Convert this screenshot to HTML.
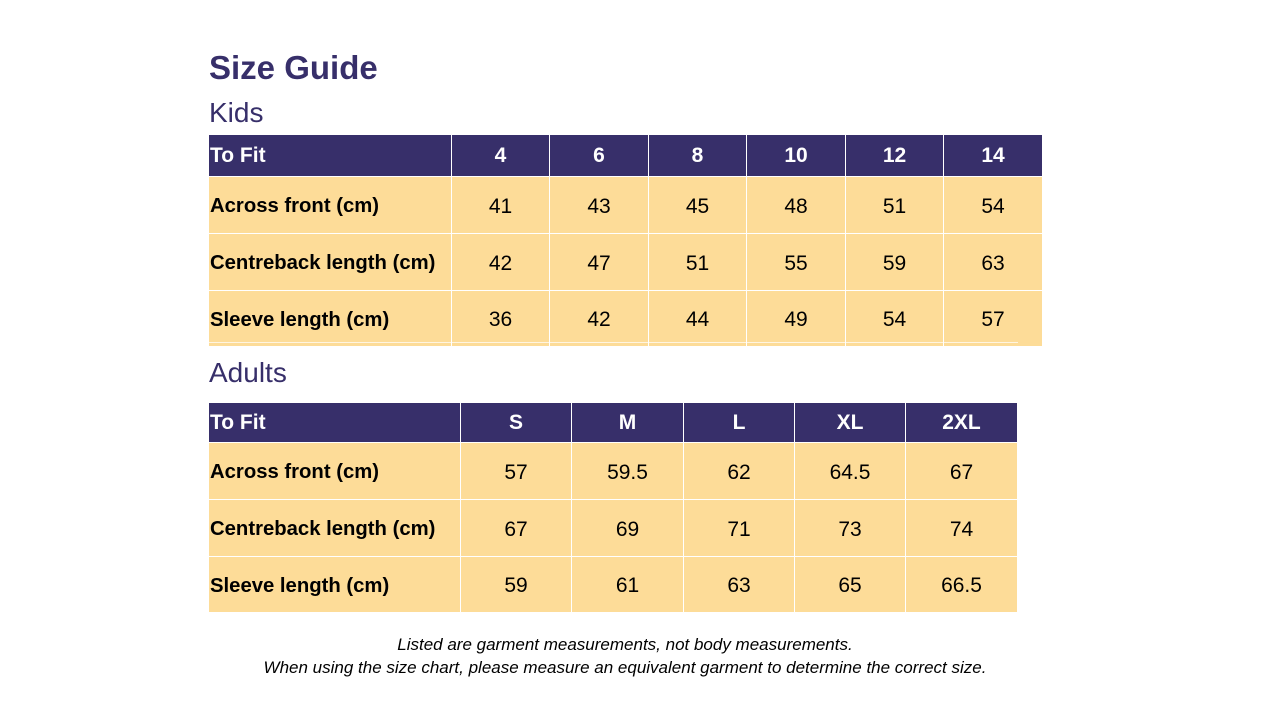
<!DOCTYPE html>
<html><head><meta charset="utf-8"><style>
body{margin:0;width:1280px;height:720px;background:#fff;position:relative;overflow:hidden;font-family:"Liberation Sans",sans-serif;}
.t{position:absolute;color:#372f6a;}
table{position:absolute;border-collapse:collapse;table-layout:fixed;}
td{padding:3px 0 0 0;border:1px solid #fff;text-align:center;font-size:21px;color:#000;background:#fddc98;}
td.l{text-align:left;font-weight:bold;font-size:20.3px;padding-left:1px;white-space:nowrap;}
tr.h td{background:#372f6a;color:#fff;font-weight:bold;font-size:21px;padding-top:1px;}
tr.h td.l{font-size:21px;}
.f{position:absolute;left:0;width:1250px;text-align:center;font-style:italic;font-size:17px;color:#000;}
</style></head><body>
<div class="t" style="left:209px;top:49px;font-size:33px;font-weight:bold;">Size Guide</div>
<div class="t" style="left:209px;top:97px;font-size:28px;">Kids</div>
<table style="left:208px;top:134px;width:834px;">
<colgroup><col style="width:243px"><col style="width:98px"><col style="width:99px"><col style="width:98px"><col style="width:99px"><col style="width:98px"><col style="width:99px"></colgroup>
<tr class="h" style="height:42px"><td class="l">To Fit</td><td>4</td><td>6</td><td>8</td><td>10</td><td>12</td><td>14</td></tr>
<tr style="height:57px"><td class="l">Across front (cm)</td><td>41</td><td>43</td><td>45</td><td>48</td><td>51</td><td>54</td></tr>
<tr style="height:57px"><td class="l">Centreback length (cm)</td><td>42</td><td>47</td><td>51</td><td>55</td><td>59</td><td>63</td></tr>
<tr style="height:56px"><td class="l">Sleeve length (cm)</td><td>36</td><td>42</td><td>44</td><td>49</td><td>54</td><td>57</td></tr>
</table>
<div style="position:absolute;left:208px;top:342px;width:810px;height:1px;background:#fff;opacity:.7"></div>
<div class="t" style="left:209px;top:357px;font-size:28px;">Adults</div>
<table style="left:208px;top:402px;width:809px;">
<colgroup><col style="width:252px"><col style="width:111px"><col style="width:112px"><col style="width:111px"><col style="width:111px"><col style="width:112px"></colgroup>
<tr class="h" style="height:40px"><td class="l">To Fit</td><td>S</td><td>M</td><td>L</td><td>XL</td><td>2XL</td></tr>
<tr style="height:57px"><td class="l">Across front (cm)</td><td>57</td><td>59.5</td><td>62</td><td>64.5</td><td>67</td></tr>
<tr style="height:57px"><td class="l">Centreback length (cm)</td><td>67</td><td>69</td><td>71</td><td>73</td><td>74</td></tr>
<tr style="height:56px"><td class="l">Sleeve length (cm)</td><td>59</td><td>61</td><td>63</td><td>65</td><td>66.5</td></tr>
</table>
<div class="f" style="top:635px;">Listed are garment measurements, not body measurements.</div>
<div class="f" style="top:658px;">When using the size chart, please measure an equivalent garment to determine the correct size.</div>
</body></html>
